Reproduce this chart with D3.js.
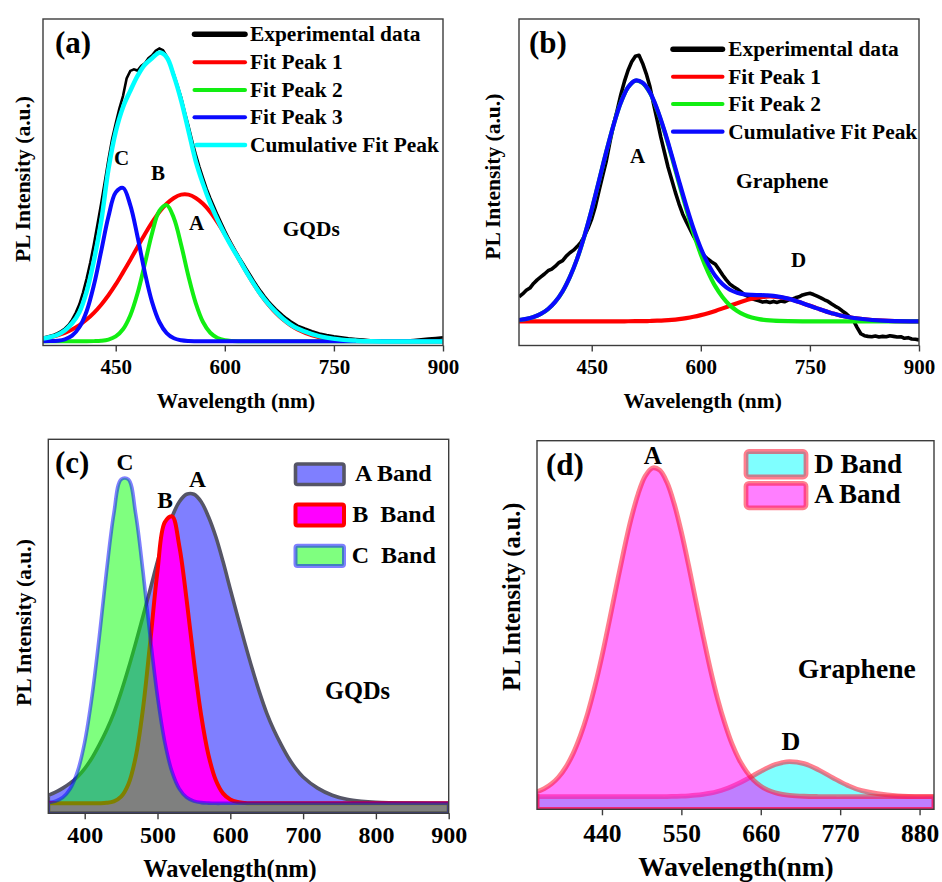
<!DOCTYPE html>
<html><head><meta charset="utf-8">
<script src="https://cdn.jsdelivr.net/npm/d3@7"></script>
<style>
body{margin:0;background:#fff}
text{font-family:"Liberation Serif","Times New Roman",serif;font-weight:bold;fill:#000}
</style>
</head><body>
<svg id="c" width="942" height="882" xmlns="http://www.w3.org/2000/svg"></svg>
<script>
// ---------- DATA ----------
const gridWl = [350,360,370,380,390,400,410,420,430,440,450,460,470,480,490,500,510,520,530,540,550,560,570,580,590,600,610,620,630,640,650,660,670,680,690,700,720,740,760,780,800,850,900];

// Panel (a) GQDs fits
const aPeak1 = [2.13,2.54,3.10,3.88,4.91,6.25,7.94,10.0,12.5,15.4,18.7,22.4,26.2,30.2,34.1,37.7,40.9,43.4,45.2,46.2,46.2,45.2,43.4,40.9,37.7,34.1,30.2,26.2,22.4,18.7,15.4,12.5,10.0,7.94,6.25,4.91,3.10,2.13,1.65,1.44,1.35,1.3,1.3];
const aPeak2 = [1.3,1.3,1.3,1.3,1.3,1.3,1.3,1.34,1.45,1.81,2.78,4.97,9.2,16.0,25.0,34.4,41.2,43.0,39.0,30.8,21.2,13.0,7.2,3.9,2.29,1.62,1.39,1.32,1.3,1.3,1.3,1.3,1.3,1.3,1.3,1.3,1.3,1.3,1.3,1.3,1.3,1.3,1.3];
const aPeak3 = [1.31,1.34,1.47,1.89,3.01,5.58,10.5,18.5,28.9,39.5,46.9,48.3,43.0,33.3,22.4,13.3,7.2,3.8,2.2,1.6,1.38,1.32,1.3,1.3,1.3,1.3,1.3,1.3,1.3,1.3,1.3,1.3,1.3,1.3,1.3,1.3,1.3,1.3,1.3,1.3,1.3,1.3,1.3];
const aCumul = [2.1,2.6,3.3,4.6,6.8,10.2,16.5,26.0,38.0,54.0,65.5,73.0,78.0,82.6,86.0,88.0,89.7,88.3,82.5,75.0,65.8,56.5,49.5,43.5,38.5,34.0,30.0,26.3,22.4,18.8,15.5,12.7,10.3,8.2,6.5,5.2,3.5,2.4,1.8,1.5,1.3,1.2,1.2];

const expWlA = [350,355,360,365,370,375,380,385,390,395,400,405,410,415,420,425,430,435,440,445,450,455,460,465,470,475,480,485,490,495,500,505,510,515,520,525,530,535,540,545,550,555,560,565,570,575,580,585,590,595,600,605,610,615,620,625,630,635,640,645,650,655,660,665,670,675,680,685,690,695,700,710,720,730,740,750,760,770,780,790,800,810,820,830,840,850,860,870,880,890,900];
const aExp = [2.4,2.7,3.0,3.3,3.8,4.4,5.2,6.3,7.9,10.0,
12.6,16.2,20.5,25.4,31.0,37.2,43.5,50.2,57.0,63.2,
68.0,72.6,76.4,81.8,84.1,84.6,84.2,85.6,86.4,88.0,
88.9,90.3,91.0,90.4,88.6,86.0,83.0,79.6,76.0,71.5,
67.3,62.8,58.6,54.8,51.3,48.0,45.2,42.6,40.0,37.6,
35.2,33.0,30.9,28.9,27.0,25.2,23.4,21.6,19.8,18.1,
16.5,15.0,13.6,12.4,11.2,10.2,9.2,8.3,7.5,6.8,
6.1,
5.2,4.4,3.7,3.2,2.8,2.5,2.2,2.0,1.8,1.6,
1.5,1.4,1.4,1.5,1.5,1.7,1.9,2.1,2.3,2.5];

// Panel (b) Graphene fits
const bPeak1 = [7.4,7.4,7.4,7.4,7.4,7.4,7.4,7.4,7.4,7.4,7.4,7.4,7.4,7.4,7.41,7.42,7.44,7.47,7.51,7.59,7.70,7.86,8.09,8.39,8.79,9.30,9.90,10.6,11.37,12.17,12.96,13.69,14.3,14.74,14.97,14.97,14.3,12.96,11.37,9.9,8.79,7.59,7.41];
const bPeak2 = [7.79,8.13,8.71,9.66,11.16,13.4,16.6,21.0,26.6,33.6,41.6,50.4,59.3,67.5,74.4,79.1,81.1,80.4,77.4,72.2,65.5,57.8,49.7,41.8,34.4,27.9,22.5,18.1,14.8,12.3,10.6,9.38,8.59,8.09,7.79,7.61,7.46,7.4,7.4,7.4,7.4,7.4,7.4];
const bCumul = [7.81,8.15,8.73,9.68,11.18,13.42,16.62,21.02,26.62,33.62,41.62,50.42,59.31,67.51,74.41,79.12,81.14,80.47,77.51,72.39,65.8,58.26,50.39,42.79,35.79,29.8,25.0,21.3,18.77,17.07,16.16,15.67,15.49,15.43,15.36,15.18,14.36,12.96,11.37,9.9,8.79,7.59,7.41];

const expWlB = [350,355,360,365,370,375,380,385,390,395,400,405,410,415,420,425,430,435,440,445,450,455,460,465,470,475,480,485,490,495,500,505,510,515,520,525,530,535,540,545,550,555,560,565,570,575,580,585,590,595,600,605,610,615,620,625,630,635,640,645,650,655,660,665,670,675,680,685,690,695,700,705,710,715,720,725,730,735,740,745,750,755,760,765,770,775,780,785,790,795,800,805,810,815,820,825,830,835,840,845,850,855,860,865,870,875,880,885,890,895,900];
const bExp = [14.9,15.8,16.9,17.6,19.0,20.1,21.0,21.9,22.9,23.4,
24.3,25.4,26.0,27.4,28.4,29.2,30.3,31.6,33.5,36.0,
38.8,42.6,47.4,52.0,56.5,62.3,67.6,72.0,76.8,80.9,
84.3,86.9,88.6,88.9,86.4,83.2,79.3,74.0,69.0,63.8,
59.2,54.6,50.8,46.9,43.4,40.3,37.9,35.7,33.5,31.5,
29.0,27.4,26.4,25.6,24.9,23.3,21.6,20.1,18.8,18.0,
17.3,16.5,15.6,15.0,14.3,14.0,13.7,13.3,13.5,13.2,
13.5,13.2,13.6,13.4,13.9,14.2,14.6,14.9,15.5,15.8,
16.0,15.6,15.1,14.6,14.0,13.5,12.7,12.0,11.4,10.5,
9.7,8.7,7.6,5.5,3.6,3.0,2.8,2.7,2.9,2.6,
2.8,2.7,3.0,2.8,2.6,2.7,2.2,2.4,2.0,1.9,
1.7];

// Panel (c) GQDs bands
const cBandA = [4.83,5.65,6.73,8.06,9.72,11.95,14.8,18.3,22.2,26.8,32.4,38.7,45.5,52.6,59.9,67.3,74.0,79.3,83.3,85.3,85.3,83.3,79.3,74.0,67.3,59.9,52.6,45.5,38.7,32.4,26.8,22.2,18.3,14.8,11.95,9.72,6.73,4.83,3.73,3.19,2.92,2.72,2.67];
const cBandB = [2.67,2.67,2.67,2.67,2.67,2.67,2.67,2.70,2.80,3.18,4.44,7.76,15.0,27.9,45.8,64.8,77.8,79.4,71.4,57.1,40.7,26.2,15.6,8.9,5.33,3.68,3.01,2.77,2.70,2.67,2.67,2.67,2.67,2.67,2.67,2.67,2.67,2.67,2.67,2.67,2.67,2.67,2.67];
const cBandC = [2.86,3.25,4.26,6.53,11.06,19.0,31.2,47.1,64.7,80.1,89.3,89.3,80.1,64.7,47.1,31.2,19.0,11.06,6.53,4.26,3.25,2.86,2.73,2.67,2.67,2.67,2.67,2.67,2.67,2.67,2.67,2.67,2.67,2.67,2.67,2.67,2.67,2.67,2.67,2.67,2.67,2.67,2.67];

// Panel (d) Graphene bands
const dBandA = [4.73,5.58,6.87,8.76,11.44,15.1,19.9,25.9,33.2,41.6,50.9,60.5,69.9,78.5,85.5,90.4,92.6,92.0,88.7,82.9,75.2,66.2,56.6,47.1,38.1,30.1,23.4,17.8,13.5,10.3,7.92,6.29,5.19,4.49,4.04,3.78,3.54,3.46,3.44,3.44,3.44,3.44,3.44];
const dBandD = [3.44,3.44,3.44,3.44,3.44,3.44,3.44,3.44,3.44,3.44,3.44,3.44,3.44,3.44,3.44,3.44,3.44,3.44,3.44,3.51,3.57,3.67,3.82,4.05,4.37,4.83,5.43,6.18,7.08,8.11,9.2,10.3,11.3,12.13,12.69,12.93,12.39,10.71,8.54,6.52,5.05,3.61,3.44];

const ticksAB = [450,600,750,900];
const ticksC = [400,500,600,700,800,900];
const ticksD = [440,550,660,770,880];

// ---------- DRAW ----------
const svg = d3.select('#c');
const defs = svg.append('defs');

function panel(p){
  const x = d3.scaleLinear().domain([350,900]).range([p.x0,p.x1]);
  const y = d3.scaleLinear().domain([0,100]).range([p.y1,p.y0]);
  defs.append('clipPath').attr('id',p.id).append('rect')
    .attr('x',p.x0).attr('y',p.y0).attr('width',p.x1-p.x0).attr('height',p.y1-p.y0);
  const g = svg.append('g');
  const plot = g.append('g').attr('clip-path',`url(#${p.id})`);
  return {x,y,g,plot,p};
}
function finish(P, ticks, fs, pad){
  const {x,y,g,p} = P;
  g.append('rect').attr('x',p.x0).attr('y',p.y0).attr('width',p.x1-p.x0).attr('height',p.y1-p.y0)
    .attr('fill','none').attr('stroke','#3c3c3c').attr('stroke-width',1.4);
  const ax = g.append('g').attr('transform',`translate(0,${p.y1})`)
    .call(d3.axisBottom(x).tickValues(ticks).tickSize(6).tickSizeOuter(0).tickPadding(pad).tickFormat(d3.format('d')));
  ax.select('.domain').remove();
  ax.selectAll('.tick line').attr('stroke','#3c3c3c').attr('stroke-width',1.4);
  ax.selectAll('.tick text').style('font-size',fs+'px')
    .style('font-family','"Liberation Serif","Times New Roman",serif').style('font-weight','bold').attr('fill','#000');
}
function txt(t,x,y,fs,anchor){
  return svg.append('text').attr('x',x).attr('y',y).style('font-size',fs+'px')
    .attr('text-anchor',anchor||'start').style('white-space','pre').text(t);
}
function ytitle(t,x,cy,fs){
  svg.append('text').attr('transform',`translate(${x},${cy}) rotate(-90)`)
    .attr('text-anchor','middle').style('font-size',fs+'px').text(t);
}
function lineOf(P,curve){
  return d3.line().x(d=>P.x(d[0])).y(d=>P.y(d[1])).curve(curve||d3.curveCatmullRom.alpha(0.5));
}
function areaOf(P){
  return d3.area().x(d=>P.x(d[0])).y0(P.y(0)).y1(d=>P.y(d[1])).curve(d3.curveCatmullRom.alpha(0.5));
}

const RED='#ff0000', GREEN='#12ee12', BLUE='#0a0aff', CYAN='#00ffff';

// ----- (a) -----
const A = panel({id:'ca',x0:43,x1:443,y0:19,y1:345.5});
A.plot.append('path').datum(d3.zip(expWlA,aExp)).attr('d',lineOf(A,d3.curveLinear))
  .attr('fill','none').attr('stroke','#000').attr('stroke-width',2.6);
[[aPeak1,RED],[aPeak2,GREEN],[aPeak3,BLUE],[aCumul,CYAN]].forEach(([v,c])=>{
  A.plot.append('path').datum(d3.zip(gridWl,v)).attr('d',lineOf(A))
    .attr('fill','none').attr('stroke',c).attr('stroke-width',c===CYAN?4.5:4).attr('stroke-linejoin','round');
});
finish(A, ticksAB, 21, 8);
const legA = [['Experimental data','#000',5.5],['Fit Peak 1',RED,4],['Fit Peak 2',GREEN,4],['Fit Peak 3',BLUE,4],['Cumulative Fit Peak',CYAN,4.5]];
const legAy = [34.3,62.3,90,117.3,145];
legA.forEach((d,i)=>{
  svg.append('line').attr('x1',i===4?196.5:194.5).attr('x2',245).attr('y1',legAy[i]).attr('y2',legAy[i])
    .attr('stroke',d[1]).attr('stroke-width',d[2]).attr('stroke-linecap','round');
  txt(d[0],250,legAy[i]+6.8,21.4);
});
txt('(a)',55,53,31);
txt('C',121.7,165,21,'middle');
txt('B',158,180,21,'middle');
txt('A',196.7,230,21,'middle');
txt('GQDs',282.7,236,21.4);
txt('Wavelength (nm)',236,408,21.5,'middle');
ytitle('PL Intensity (a.u.)',29.5,179,21.5);

// ----- (b) -----
const B = panel({id:'cb',x0:519,x1:919,y0:19,y1:345.5});
B.plot.append('path').datum(d3.zip(expWlB,bExp)).attr('d',lineOf(B,d3.curveLinear))
  .attr('fill','none').attr('stroke','#000').attr('stroke-width',3.6).attr('stroke-linejoin','round');
[[bPeak1,RED],[bPeak2,GREEN],[bCumul,BLUE]].forEach(([v,c])=>{
  B.plot.append('path').datum(d3.zip(gridWl,v)).attr('d',lineOf(B))
    .attr('fill','none').attr('stroke',c).attr('stroke-width',4.2).attr('stroke-linejoin','round');
});
finish(B, ticksAB, 21, 8);
const legB = [['Experimental data','#000',5.5],['Fit Peak 1',RED,4],['Fit Peak 2',GREEN,4],['Cumulative Fit Peak',BLUE,4.2]];
const legBy = [49.3,76.7,104,131.7];
legB.forEach((d,i)=>{
  svg.append('line').attr('x1',673).attr('x2',722.5).attr('y1',legBy[i]).attr('y2',legBy[i])
    .attr('stroke',d[1]).attr('stroke-width',d[2]).attr('stroke-linecap','round');
  txt(d[0],728.3,legBy[i]+6.8,21.4);
});
txt('(b)',529,53,31);
txt('A',637.7,163,21,'middle');
txt('Graphene',736,187.5,21.6);
txt('D',798.5,266.7,21,'middle');
txt('Wavelength (nm)',702.7,408,21.5,'middle');
ytitle('PL Intensity (a.u.)',500,176.7,21.5);

// ----- (c) -----
const C = panel({id:'cc',x0:48.3,x1:448.7,y0:439.3,y1:813.3});
const cStyles = [
  [cBandA,'rgba(0,0,255,0.5)','#555566',3.6],
  [cBandB,'#ff00ff','#ff0000',4],
  [cBandC,'rgba(0,255,0,0.5)','rgba(0,0,255,0.5)',3.6]
];
cStyles.forEach(([v,f,s,w])=>{
  C.plot.append('path').datum(d3.zip(gridWl,v)).attr('d',areaOf(C))
    .attr('fill',f).attr('stroke',s).attr('stroke-width',w).attr('stroke-linejoin','round');
});
finish(C, ticksC, 24, 6.5);
const legC = [['A Band',464,20.5,'rgba(0,0,255,0.5)','#555566',3.6,355,481],
              ['B  Band',504.5,21,'#ff00ff','#ff0000',4,352.3,521.7],
              ['C  Band',545.7,20.3,'rgba(0,255,0,0.5)','rgba(0,0,255,0.5)',4,351.7,563]];
legC.forEach(d=>{
  svg.append('rect').attr('x',295.5).attr('y',d[1]).attr('width',48.5).attr('height',d[2]).attr('rx',2)
    .attr('fill',d[3]).attr('stroke',d[4]).attr('stroke-width',d[5]);
  txt(d[0],d[6],d[7],24);
});
txt('(c)',55,473.3,31);
txt('C',125,470,23.5,'middle');
txt('B',165,508.3,23.5,'middle');
txt('A',197.5,486.7,23.5,'middle');
txt('GQDs',325,699,24.4);
txt('Wavelength(nm)',230,876.5,24.4,'middle');
ytitle('PL Intensity (a.u.)',30.7,622.5,21.6);

// ----- (d) -----
const D = panel({id:'cd',x0:537,x1:934,y0:440.7,y1:809.3});
const dStroke = 'rgba(255,20,50,0.55)';
[[dBandD,'rgba(0,255,255,0.5)'],[dBandA,'rgba(255,0,255,0.5)']].forEach(([v,f])=>{
  D.plot.append('path').datum(d3.zip(gridWl,v)).attr('d',areaOf(D))
    .attr('fill',f).attr('stroke',dStroke).attr('stroke-width',4.8).attr('stroke-linejoin','round');
});
finish(D, ticksD, 25.5, 9);
[['D Band',451.5,25.5,'rgba(0,255,255,0.5)',472.7],['A Band',483.3,24.5,'rgba(255,0,255,0.5)',503.3]].forEach(d=>{
  svg.append('rect').attr('x',746).attr('y',d[1]).attr('width',60).attr('height',d[2]).attr('rx',3)
    .attr('fill',d[3]).attr('stroke',dStroke).attr('stroke-width',4.8);
  txt(d[0],814.3,d[4],27);
});
txt('(d)',546,475,31);
txt('A',652.7,464,25,'middle');
txt('D',791,750,26,'middle');
txt('Graphene',797.7,678,27.6);
txt('Wavelength(nm)',736,876,27.5,'middle');
ytitle('PL Intensity (a.u.)',519.5,596.7,24.4);
</script>
</body></html>
